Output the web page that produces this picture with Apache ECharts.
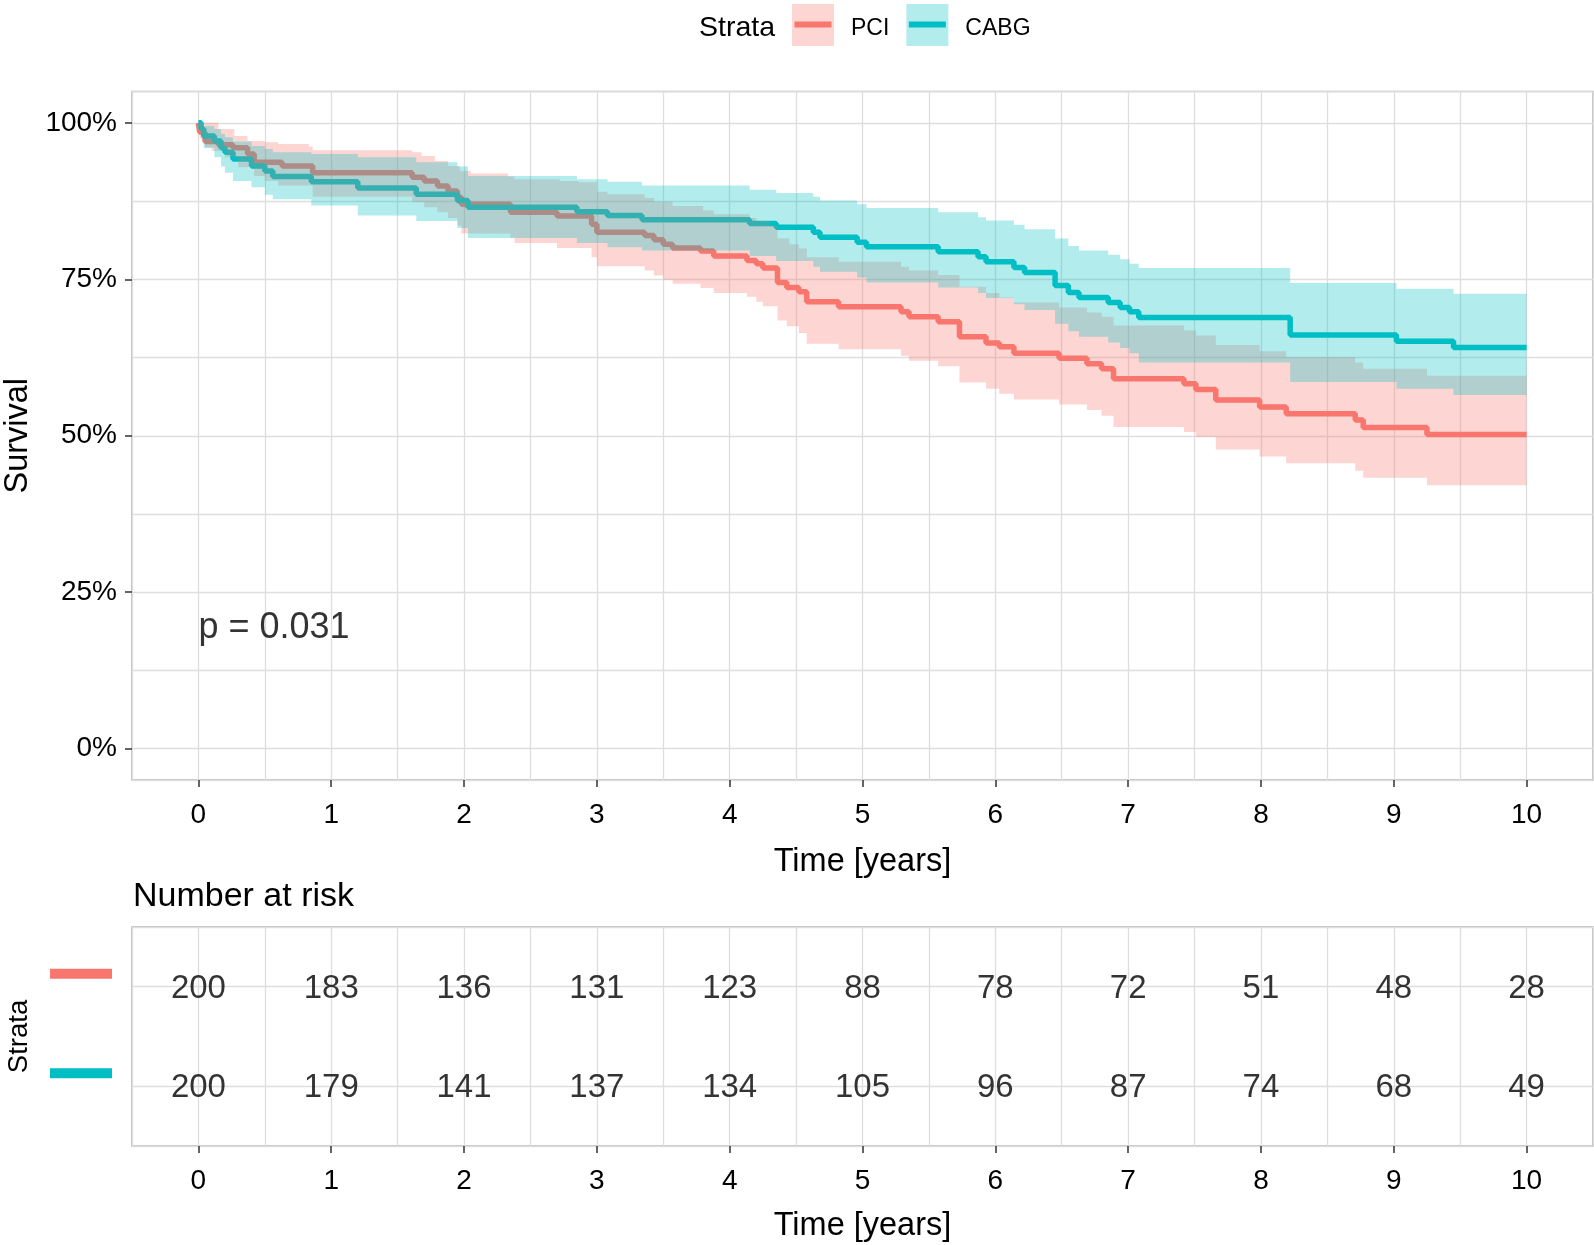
<!DOCTYPE html>
<html>
<head>
<meta charset="utf-8">
<title>Survival by strata</title>
<script src="https://cdn.jsdelivr.net/npm/echarts@6/dist/echarts.min.js"></script>
<style>
html, body { margin: 0; padding: 0; background: #fff; }
#chart { width: 1594px; height: 1245px; }
</style>
</head>
<body>
<div id="chart"></div>
<script>
const FONT = '"Liberation Sans", Arial, Helvetica, sans-serif'
const T_END = 10
const GRID_COLOR = '#DEDEDE'
const BORDER_COLOR = '#B3B3B3'
const TICK_COLOR = '#333333'

const timeTicks = [0, 1, 2, 3, 4, 5, 6, 7, 8, 9, 10]
const survTicks = [0, 0.25, 0.5, 0.75, 1]
const colors = { PCI: '#F8766D', CABG: '#00BFC4' }
const fills = { PCI: 'rgba(248,118,109,0.3)', CABG: 'rgba(0,191,196,0.3)' }

// Kaplan-Meier steps: [time, survival], value holds until next time
const pciSurv = [
  [0, 1.0], [0.01, 0.985], [0.05, 0.97], [0.15, 0.965], [0.26, 0.96], [0.37, 0.95],
  [0.42, 0.937], [0.63, 0.931], [0.86, 0.92], [1.61, 0.913], [1.70, 0.907], [1.80, 0.899],
  [1.88, 0.891], [1.95, 0.881], [1.98, 0.870], [2.35, 0.857], [2.70, 0.851], [2.96, 0.838],
  [3.0, 0.825], [3.36, 0.820], [3.43, 0.813], [3.5, 0.806], [3.57, 0.80], [3.78, 0.795],
  [3.88, 0.787], [4.13, 0.78], [4.2, 0.775], [4.25, 0.768], [4.36, 0.745], [4.43, 0.737],
  [4.52, 0.73], [4.58, 0.714], [4.82, 0.706], [5.29, 0.698], [5.35, 0.690], [5.57, 0.682],
  [5.73, 0.658], [5.93, 0.648], [6.03, 0.642], [6.14, 0.632], [6.48, 0.624], [6.69, 0.615],
  [6.8, 0.607], [6.89, 0.591], [7.42, 0.583], [7.51, 0.574], [7.66, 0.557], [7.99, 0.546],
  [8.19, 0.535], [8.71, 0.525], [8.77, 0.513], [9.25, 0.502]
]
const pciUpper = [
  [0, 1.0], [0.15, 0.99], [0.27, 0.979], [0.37, 0.971], [0.5, 0.969], [0.6, 0.966],
  [0.83, 0.962], [0.86, 0.956], [1.61, 0.953], [1.68, 0.947], [1.78, 0.939], [1.88, 0.931],
  [1.97, 0.923], [2.05, 0.919], [2.33, 0.914], [2.38, 0.910], [2.72, 0.907], [2.86, 0.905],
  [3.0, 0.890], [3.08, 0.886], [3.36, 0.880], [3.43, 0.874], [3.57, 0.867], [3.8, 0.860],
  [3.88, 0.854], [4.15, 0.848], [4.2, 0.843], [4.3, 0.836], [4.36, 0.815], [4.45, 0.806],
  [4.52, 0.799], [4.58, 0.785], [4.82, 0.778], [5.29, 0.770], [5.35, 0.764], [5.57, 0.757],
  [5.73, 0.738], [5.93, 0.728], [6.03, 0.721], [6.14, 0.713], [6.48, 0.705], [6.69, 0.697],
  [6.8, 0.69], [6.89, 0.676], [7.42, 0.668], [7.51, 0.66], [7.66, 0.645], [7.99, 0.635],
  [8.19, 0.626], [8.71, 0.617], [8.77, 0.607], [9.25, 0.596]
]
const pciLower = [
  [0, 1.0], [0.01, 0.975], [0.05, 0.96], [0.1, 0.955], [0.2, 0.945], [0.3, 0.929],
  [0.42, 0.915], [0.5, 0.907], [0.6, 0.9], [0.86, 0.882], [1.61, 0.873], [1.70, 0.865],
  [1.80, 0.857], [1.88, 0.848], [1.95, 0.836], [1.98, 0.823], [2.35, 0.816], [2.38, 0.808],
  [2.7, 0.8], [2.96, 0.785], [3.0, 0.771], [3.36, 0.764], [3.43, 0.756], [3.5, 0.749],
  [3.57, 0.743], [3.78, 0.736], [3.88, 0.728], [4.13, 0.722], [4.2, 0.714], [4.25, 0.707],
  [4.36, 0.684], [4.43, 0.675], [4.52, 0.664], [4.58, 0.647], [4.82, 0.638], [5.29, 0.628],
  [5.35, 0.62], [5.57, 0.611], [5.73, 0.585], [5.93, 0.575], [6.03, 0.567], [6.14, 0.558],
  [6.48, 0.55], [6.69, 0.541], [6.8, 0.532], [6.89, 0.514], [7.42, 0.506], [7.51, 0.498],
  [7.66, 0.478], [7.99, 0.467], [8.19, 0.456], [8.71, 0.444], [8.77, 0.433], [9.25, 0.421]
]

const cabgSurv = [
  [0, 1.0], [0.02, 0.99], [0.04, 0.979], [0.12, 0.971], [0.17, 0.96], [0.2, 0.953],
  [0.26, 0.942], [0.4, 0.931], [0.5, 0.923], [0.56, 0.914], [0.85, 0.906], [1.2, 0.896],
  [1.64, 0.886], [1.95, 0.876], [2.03, 0.865], [2.85, 0.858], [3.08, 0.852], [3.34, 0.845],
  [4.15, 0.839], [4.35, 0.833], [4.63, 0.825], [4.68, 0.817], [4.96, 0.809], [5.03, 0.802],
  [5.57, 0.794], [5.87, 0.786], [5.93, 0.778], [6.14, 0.769], [6.22, 0.761], [6.45, 0.74],
  [6.55, 0.729], [6.63, 0.721], [6.85, 0.713], [6.94, 0.705], [7.01, 0.698], [7.08, 0.689],
  [8.22, 0.661], [9.02, 0.651], [9.45, 0.641]
]
const cabgUpper = [
  [0, 1.0], [0.04, 0.995], [0.12, 0.99], [0.17, 0.982], [0.2, 0.977], [0.26, 0.97],
  [0.4, 0.963], [0.5, 0.958], [0.56, 0.953], [0.85, 0.950], [1.2, 0.945], [1.64, 0.937],
  [1.95, 0.93], [2.03, 0.915], [2.85, 0.91], [3.08, 0.906], [3.34, 0.900], [4.15, 0.893],
  [4.35, 0.888], [4.63, 0.882], [4.68, 0.876], [4.96, 0.870], [5.03, 0.864], [5.57, 0.857],
  [5.87, 0.849], [5.93, 0.844], [6.14, 0.837], [6.22, 0.830], [6.45, 0.815], [6.55, 0.803],
  [6.63, 0.796], [6.85, 0.789], [6.94, 0.782], [7.01, 0.775], [7.08, 0.768], [8.22, 0.744],
  [9.02, 0.735], [9.45, 0.727]
]
const cabgLower = [
  [0, 1.0], [0.02, 0.975], [0.04, 0.96], [0.12, 0.945], [0.17, 0.93], [0.2, 0.92],
  [0.26, 0.907], [0.4, 0.897], [0.5, 0.885], [0.56, 0.878], [0.85, 0.868], [1.2, 0.852],
  [1.64, 0.843], [1.95, 0.832], [2.03, 0.816], [2.85, 0.808], [3.08, 0.801], [3.34, 0.796],
  [4.15, 0.787], [4.35, 0.779], [4.63, 0.77], [4.68, 0.762], [4.96, 0.753], [5.03, 0.745],
  [5.57, 0.737], [5.87, 0.728], [5.93, 0.72], [6.14, 0.71], [6.22, 0.701], [6.45, 0.679],
  [6.55, 0.667], [6.63, 0.658], [6.85, 0.649], [6.94, 0.64], [7.01, 0.632], [7.08, 0.617],
  [8.22, 0.586], [9.02, 0.575], [9.45, 0.565]
]

// number at risk table
const riskTimes = [0, 1, 2, 3, 4, 5, 6, 7, 8, 9, 10]
const pciRisk = [200, 183, 136, 131, 123, 88, 78, 72, 51, 48, 28]
const cabgRisk = [200, 179, 141, 137, 134, 105, 96, 87, 74, 68, 49]
const riskRow = { PCI: 2, CABG: 1 }

const pValueText = 'p = 0.031'
const pValuePos = [0, 0.2]

function stepLine (steps) {
  return steps.concat([[T_END, steps[steps.length - 1][1]]])
}

// polygon between two step functions, placed with the axis scales
function ribbonRenderer (upper, lower, fill) {
  return function (params, api) {
    const pts = []
    upper.forEach((p, i) => {
      const next = i < upper.length - 1 ? upper[i + 1][0] : T_END
      pts.push(api.coord([p[0], p[1]]), api.coord([next, p[1]]))
    })
    for (let i = lower.length - 1; i >= 0; i--) {
      const next = i < lower.length - 1 ? lower[i + 1][0] : T_END
      pts.push(api.coord([next, lower[i][1]]), api.coord([lower[i][0], lower[i][1]]))
    }
    return { type: 'polygon', shape: { points: pts }, style: { fill: fill } }
  }
}

function tickAxis (gridIndex, name, nameGap) {
  return {
    gridIndex: gridIndex,
    type: 'value',
    min: -0.5,
    max: 10.5,
    position: 'bottom',
    axisLine: { show: false, onZero: false },
    axisTick: { show: true, length: 7, customValues: timeTicks, lineStyle: { color: TICK_COLOR, width: 1.5 } },
    axisLabel: { customValues: timeTicks, margin: 21, fontSize: 28, color: '#000', fontFamily: FONT },
    splitLine: { show: false },
    name: name,
    nameLocation: 'middle',
    nameGap: nameGap,
    nameTextStyle: { fontSize: 32.5, color: '#000', fontFamily: FONT }
  }
}

function gridXAxis (gridIndex) {
  return {
    gridIndex: gridIndex,
    type: 'value',
    min: -0.5,
    max: 10.5,
    interval: 0.5,
    position: 'top',
    axisLine: { show: false, onZero: false },
    axisTick: { show: false },
    axisLabel: { show: false },
    splitLine: { show: true, lineStyle: { color: GRID_COLOR, width: 1.3 } }
  }
}

const chart = echarts.init(document.getElementById('chart'), null, { renderer: 'canvas' })

const option = {
  animation: false,
  backgroundColor: '#fff',
  textStyle: { fontFamily: FONT },
  grid: [
    { left: 132, right: 1, top: 91.5, height: 688.5, show: true, borderColor: BORDER_COLOR, borderWidth: 1.5, backgroundColor: 'transparent', containLabel: false, outerBoundsMode: 'none' },
    { left: 132, right: 1, top: 927, height: 219, show: true, borderColor: BORDER_COLOR, borderWidth: 1.5, backgroundColor: 'transparent', containLabel: false, outerBoundsMode: 'none' }
  ],
  legend: [
    {
      selectedMode: false,
      left: 792,
      top: 4,
      padding: 0,
      itemWidth: 42,
      itemHeight: 42,
      itemGap: 17,
      icon: 'rect',
      formatter: name => '{t|' + name + '}',
      textStyle: {
        fontSize: 23,
        color: '#000',
        fontFamily: FONT,
        rich: { t: { fontSize: 23, color: '#000', fontFamily: FONT, padding: [7, 0, 0, 12] } }
      },
      data: [
        { name: 'PCI', itemStyle: { color: fills.PCI, borderWidth: 0 } },
        { name: 'CABG', itemStyle: { color: fills.CABG, borderWidth: 0 } }
      ]
    },
    {
      selectedMode: false,
      left: 794.5,
      top: 13,
      padding: 0,
      itemWidth: 37,
      itemHeight: 6,
      itemGap: 17,
      icon: 'rect',
      textStyle: { fontSize: 23, color: 'rgba(0,0,0,0)', fontFamily: FONT, padding: [0, 0, 0, 17] },
      data: [
        { name: 'PCI', itemStyle: { color: colors.PCI, borderWidth: 0 } },
        { name: 'CABG', itemStyle: { color: colors.CABG, borderWidth: 0 } }
      ]
    }
  ],
  graphic: [
    { type: 'text', x: 775, y: 28.5, style: { text: 'Strata', align: 'right', verticalAlign: 'middle', fontSize: 28.5, fontFamily: FONT, fill: '#000' } },
    { type: 'text', x: 133, y: 897, style: { text: 'Number at risk', align: 'left', verticalAlign: 'middle', fontSize: 34, fontFamily: FONT, fill: '#000' } }
  ],
  xAxis: [
    tickAxis(0, 'Time [years]', 66),
    gridXAxis(0),
    tickAxis(1, 'Time [years]', 64),
    gridXAxis(1)
  ],
  yAxis: [
    {
      gridIndex: 0,
      type: 'value',
      min: -0.05,
      max: 1.05,
      position: 'left',
      axisLine: { show: false, onZero: false },
      axisTick: { show: true, length: 7, customValues: survTicks, lineStyle: { color: TICK_COLOR, width: 1.5 } },
      axisLabel: {
        customValues: survTicks,
        margin: 15,
        fontSize: 28,
        color: '#000',
        fontFamily: FONT,
        formatter: v => Math.round(v * 100) + '%'
      },
      splitLine: { show: false },
      name: 'Survival',
      nameLocation: 'middle',
      nameRotate: 90,
      nameGap: 94,
      nameTextStyle: { fontSize: 32.5, color: '#000', fontFamily: FONT }
    },
    {
      gridIndex: 0,
      type: 'value',
      min: -0.05,
      max: 1.05,
      minInterval: 0.125,
      maxInterval: 0.125,
      position: 'right',
      axisLine: { show: false, onZero: false },
      axisTick: { show: false },
      axisLabel: { show: false },
      splitLine: { show: true, lineStyle: { color: GRID_COLOR, width: 1.3 } }
    },
    {
      gridIndex: 1,
      type: 'value',
      min: 0.4,
      max: 2.6,
      minInterval: 1,
      maxInterval: 1,
      position: 'left',
      axisLine: { show: false, onZero: false },
      axisTick: { show: false },
      axisLabel: {
        margin: 20,
        padding: [0, 0, 26, 0],
        formatter: v => v === riskRow.PCI ? '{PCI| }' : (v === riskRow.CABG ? '{CABG| }' : ''),
        rich: {
          PCI: { width: 62, height: 10, backgroundColor: colors.PCI },
          CABG: { width: 62, height: 10, backgroundColor: colors.CABG }
        }
      },
      splitLine: { show: true, lineStyle: { color: GRID_COLOR, width: 1.3 } },
      name: 'Strata',
      nameLocation: 'middle',
      nameRotate: 90,
      nameGap: 99,
      nameTextStyle: { fontSize: 27.5, color: '#000', fontFamily: FONT }
    }
  ],
  series: [
    {
      name: 'PCI',
      type: 'line',
      xAxisIndex: 0,
      yAxisIndex: 0,
      step: 'end',
      data: stepLine(pciSurv),
      showSymbol: false,
      symbol: 'none',
      lineStyle: { color: colors.PCI, width: 5.5 },
      itemStyle: { color: colors.PCI },
      z: 2
    },
    {
      name: 'CABG',
      type: 'line',
      xAxisIndex: 0,
      yAxisIndex: 0,
      step: 'end',
      data: stepLine(cabgSurv),
      showSymbol: false,
      symbol: 'none',
      lineStyle: { color: colors.CABG, width: 5.5 },
      itemStyle: { color: colors.CABG },
      z: 2
    },
    {
      name: 'PCI CI',
      type: 'custom',
      xAxisIndex: 0,
      yAxisIndex: 0,
      silent: true,
      renderItem: ribbonRenderer(pciUpper, pciLower, fills.PCI),
      data: [[0, 1]],
      z: 3
    },
    {
      name: 'CABG CI',
      type: 'custom',
      xAxisIndex: 0,
      yAxisIndex: 0,
      silent: true,
      renderItem: ribbonRenderer(cabgUpper, cabgLower, fills.CABG),
      data: [[0, 1]],
      z: 4
    },
    {
      name: 'pvalue',
      type: 'scatter',
      xAxisIndex: 0,
      yAxisIndex: 0,
      silent: true,
      symbolSize: 1,
      itemStyle: { color: 'transparent' },
      data: [pValuePos],
      label: {
        show: true,
        formatter: pValueText,
        position: 'inside',
        offset: [0, 5],
        align: 'left',
        verticalAlign: 'middle',
        fontSize: 36,
        color: '#000',
        fontFamily: FONT
      },
      z: 5
    },
    {
      name: 'risk PCI',
      type: 'scatter',
      xAxisIndex: 2,
      yAxisIndex: 2,
      silent: true,
      symbolSize: 1,
      itemStyle: { color: 'transparent' },
      data: riskTimes.map((t, i) => [t, riskRow.PCI, pciRisk[i]]),
      label: { show: true, formatter: p => p.value[2], position: 'inside', offset: [0, 2], fontSize: 33, color: '#000', fontFamily: FONT }
    },
    {
      name: 'risk CABG',
      type: 'scatter',
      xAxisIndex: 2,
      yAxisIndex: 2,
      silent: true,
      symbolSize: 1,
      itemStyle: { color: 'transparent' },
      data: riskTimes.map((t, i) => [t, riskRow.CABG, cabgRisk[i]]),
      label: { show: true, formatter: p => p.value[2], position: 'inside', offset: [0, 2], fontSize: 33, color: '#000', fontFamily: FONT }
    }
  ]
}

chart.setOption(option)
</script>
</body>
</html>
